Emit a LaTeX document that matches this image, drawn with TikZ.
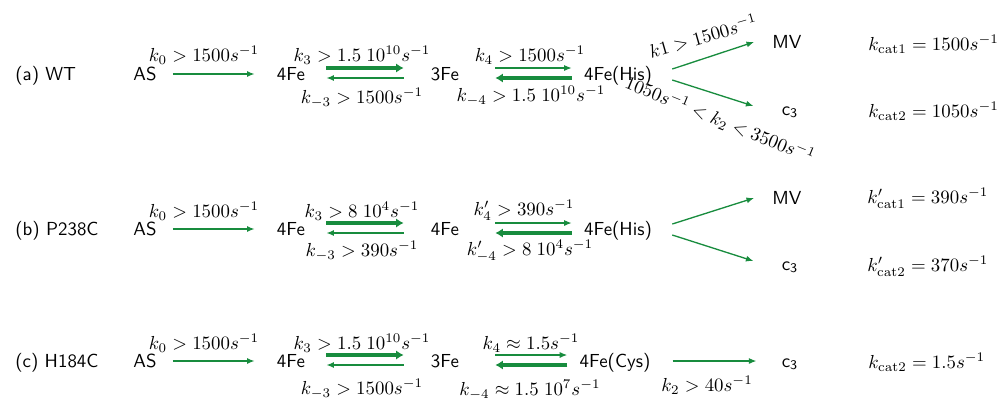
\documentclass[tikz,border=0pt]{standalone}
\usepackage{amsmath,amssymb}
\usepackage{xcolor}
\usepackage{tikz}
\usetikzlibrary{arrows.meta,calc}
\definecolor{rxgreen}{RGB}{24,140,62}

\tikzset{
  spc/.style={font=\sffamily,inner sep=0pt,anchor=base},
  rate/.style={inner sep=0pt},
  fwd/.style={draw=rxgreen,line width=0.7pt,-{Latex[length=4pt,width=3.2pt]}},
  fat/.style={draw=rxgreen,line width=2.6pt,-{Latex[length=4pt,width=5pt]}},
}

\begin{document}
\begin{tikzpicture}[x=0.53pt,y=-0.53pt]
        \useasboundingbox (0,0) rectangle (997,401);
        % (a) wild type
        \node[spc,anchor=base west] (lblA) at (15,80) {(a) WT};
        \node[spc] (asA) at (145,80) {AS};
        \node[spc] (feA) at (291,80) {4Fe};
        \node[spc] (fe3A) at (445,80) {3Fe};
        \node[spc] (hisA) at (618,80) {4Fe(His)};
        \node[spc] (mvA) at (787,48) {MV};
        \node[spc] (cA) at (790,115) {c\textsubscript{3}};
        \draw[fwd] ($(asA.base east)+(16,-6)$) -- ($(feA.base west)+(-22,-6)$);
        \draw[fat] ($(feA.base east)+(21,-12)$) -- ($(fe3A.base west)+(-27,-12)$);
        \draw[fwd] ($(fe3A.base west)+(-27,-2)$) -- ($(feA.base east)+(21,-2)$);
        \draw[fwd] ($(fe3A.base east)+(36,-12)$) -- ($(hisA.base west)+(-12,-12)$);
        \draw[fat] ($(hisA.base west)+(-12,-2)$) -- ($(fe3A.base east)+(36,-2)$);
        \draw[fwd] ($(hisA.base east)+(20,-11)$) -- ($(mvA.base west)+(-18,-6)$);
        \draw[fwd] ($(hisA.base east)+(20,0)$) -- ($(cA.base west)+(-28,-9)$);
        \node[rate] (k0A) at (204,55) {$k_0 > 1500s^{-1}$};
        \node[rate] (k3A) at (362,55) {$k_3 > 1.5\;10^{10}s^{-1}$};
        \node[rate] (km3A) at (362,98) {$k_{-3} > 1500s^{-1}$};
        \node[rate] (k4A) at (530,55) {$k_4 > 1500s^{-1}$};
        \node[rate] (km4A) at (531,96) {$k_{-4} > 1.5\;10^{10}s^{-1}$};
        \node[rate,rotate=16] (k1A) at (703,36) {$k1 > 1500s^{-1}$};
        \node[rate,rotate=-22] (k2A) at (720,120) {$1050s^{-1} < k_2 < 3500s^{-1}$};
        \node[rate,anchor=west] (kc1A) at (868,44) {$k_{\mathrm{cat1}} = 1500s^{-1}$};
        \node[rate,anchor=west] (kc2A) at (868,111) {$k_{\mathrm{cat2}} = 1050s^{-1}$};
        % (b) P238C
        \node[spc,anchor=base west] (lblB) at (15,235) {(b) P238C};
        \node[spc] (asB) at (145,235) {AS};
        \node[spc] (feB) at (291,235) {4Fe};
        \node[spc] (fe4B) at (445,235) {4Fe};
        \node[spc] (hisB) at (618,235) {4Fe(His)};
        \node[spc] (mvB) at (787,204) {MV};
        \node[spc] (cB) at (790,270) {c\textsubscript{3}};
        \draw[fwd] ($(asB.base east)+(16,-6)$) -- ($(feB.base west)+(-22,-6)$);
        \draw[fat] ($(feB.base east)+(21,-12)$) -- ($(fe4B.base west)+(-27,-12)$);
        \draw[fwd] ($(fe4B.base west)+(-27,-2)$) -- ($(feB.base east)+(21,-2)$);
        \draw[fwd] ($(fe4B.base east)+(36,-12)$) -- ($(hisB.base west)+(-12,-12)$);
        \draw[fat] ($(hisB.base west)+(-12,-2)$) -- ($(fe4B.base east)+(36,-2)$);
        \draw[fwd] ($(hisB.base east)+(20,-11)$) -- ($(mvB.base west)+(-18,-6)$);
        \draw[fwd] ($(hisB.base east)+(20,0)$) -- ($(cB.base west)+(-28,-9)$);
        \node[rate] (k0B) at (204,211) {$k_0 > 1500s^{-1}$};
        \node[rate] (k3B) at (362,211) {$k_3 > 8\;10^4s^{-1}$};
        \node[rate] (km3B) at (362,251) {$k_{-3} > 390s^{-1}$};
        \node[rate] (k4B) at (524,210) {$k'_4 > 390s^{-1}$};
        \node[rate] (km4B) at (530,251) {$k'_{-4} > 8\;10^4s^{-1}$};
        \node[rate,anchor=west] (kc1B) at (867,198) {$k'_{\mathrm{cat1}} = 390s^{-1}$};
        \node[rate,anchor=west] (kc2B) at (867,266) {$k'_{\mathrm{cat2}} = 370s^{-1}$};
        % (c) H184C
        \node[spc,anchor=base west] (lblC) at (15,367) {(c) H184C};
        \node[spc] (asC) at (145,367) {AS};
        \node[spc] (feC) at (291,367) {4Fe};
        \node[spc] (fe3C) at (445,367) {3Fe};
        \node[spc] (cysC) at (615,367) {4Fe(Cys)};
        \node[spc] (cC) at (790,367) {c\textsubscript{3}};
        \draw[fwd] ($(asC.base east)+(16,-6)$) -- ($(feC.base west)+(-22,-6)$);
        \draw[fat] ($(feC.base east)+(21,-12)$) -- ($(fe3C.base west)+(-27,-12)$);
        \draw[fwd] ($(fe3C.base west)+(-27,-2)$) -- ($(feC.base east)+(21,-2)$);
        \draw[fwd] ($(fe3C.base east)+(36,-12)$) -- ($(cysC.base west)+(-12,-12)$);
        \draw[fat] ($(cysC.base west)+(-12,-2)$) -- ($(fe3C.base east)+(36,-2)$);
        \draw[fwd] ($(cysC.base east)+(22,-6)$) -- ($(cC.base west)+(-25,-6)$);
        \node[rate] (k0C) at (204,343) {$k_0 > 1500s^{-1}$};
        \node[rate] (k3C) at (362,343) {$k_3 > 1.5\;10^{10}s^{-1}$};
        \node[rate] (km3C) at (362,389) {$k_{-3} > 1500s^{-1}$};
        \node[rate] (k4C) at (531,343) {$k_4 \approx 1.5s^{-1}$};
        \node[rate] (km4C) at (530,390) {$k_{-4} \approx 1.5\;10^7s^{-1}$};
        \node[rate] (k2C) at (707,385) {$k_2 > 40s^{-1}$};
        \node[rate,anchor=west] (kcC) at (868,362) {$k_{\mathrm{cat2}} = 1.5s^{-1}$};
\end{tikzpicture}
\end{document}
